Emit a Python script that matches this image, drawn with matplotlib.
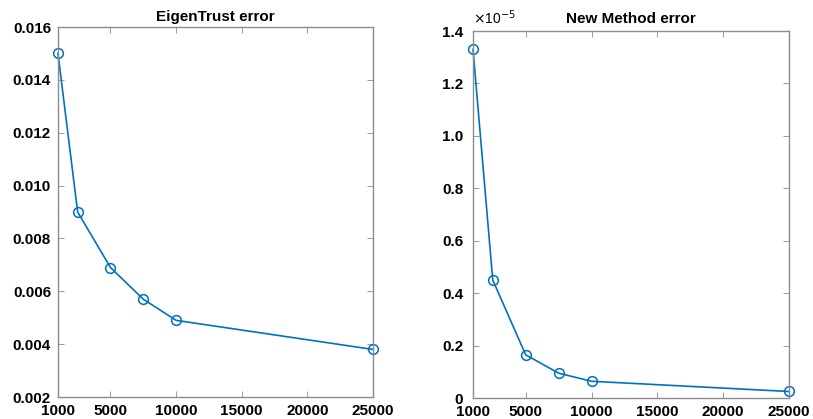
import matplotlib
matplotlib.use("Agg")
import matplotlib.pyplot as plt
from matplotlib.ticker import FuncFormatter

plt.rcParams['font.family'] = ['Liberation Sans', 'DejaVu Sans']

x_vals = [1000, 2500, 5000, 7500, 10000, 25000]
eigentrust_err = [0.0150, 0.0090, 0.0069, 0.0057, 0.0049, 0.0038]
newmethod_err = [1.33e-5, 0.45e-5, 0.165e-5, 0.095e-5, 0.064e-5, 0.025e-5]
x_ticks = [1000, 5000, 10000, 15000, 20000, 25000]
left_yticks = [0.002, 0.004, 0.006, 0.008, 0.010, 0.012, 0.014, 0.016]
right_yticks = [0, 0.2e-5, 0.4e-5, 0.6e-5, 0.8e-5, 1.0e-5, 1.2e-5, 1.4e-5]
titles = ["EigenTrust error", "New Method error"]

line_color = '#0072BD'
spine_color = '#8c8c8c'

fig = plt.figure(figsize=(8.13, 4.19), dpi=100)
ax1 = fig.add_axes([0.0713, 0.0525, 0.3875, 0.883])
ax2 = fig.add_axes([0.5818, 0.050, 0.3887, 0.876])

def style(ax, ypad):
    for s in ax.spines.values():
        s.set_color(spine_color)
        s.set_linewidth(1.0)
    ax.tick_params(direction='in', length=4, width=0.6, color=spine_color,
                   top=True, right=True, labelsize=11)
    ax.tick_params(axis='x', pad=5)
    ax.tick_params(axis='y', pad=ypad)
    ax.set_xlim(1000, 25000)
    ax.set_xticks(x_ticks)
    ax.xaxis.set_major_formatter(FuncFormatter(lambda v, p: f"{int(v)}"))

ax1.plot(x_vals, eigentrust_err, '-o', color=line_color, lw=1.2,
         markersize=7, markerfacecolor='none', markeredgewidth=1.1, clip_on=False)
ax1.set_ylim(0.002, 0.016)
ax1.set_yticks(left_yticks)
ax1.yaxis.set_major_formatter(FuncFormatter(lambda v, p: f"{v:.3f}"))
style(ax1, 5)
ax1.set_title(titles[0], fontsize=11, fontweight='bold', pad=4)

ax2.plot(x_vals, newmethod_err, '-o', color=line_color, lw=1.2,
         markersize=7, markerfacecolor='none', markeredgewidth=1.1, clip_on=False)
ax2.set_ylim(0, 1.4e-5)
ax2.set_yticks(right_yticks)
ax2.yaxis.set_major_formatter(FuncFormatter(lambda v, p: "0" if abs(v) < 1e-12 else f"{v/1e-5:.1f}"))
style(ax2, 7)
ax2.set_title(titles[1], fontsize=11, fontweight='bold', pad=6)
ax2.text(0.0, 1.01, r"$\times$10$^{-5}$", transform=ax2.transAxes,
         fontsize=10, ha='left', va='bottom')

for ax in (ax1, ax2):
    for lab in ax.get_xticklabels() + ax.get_yticklabels():
        lab.set_fontweight('bold')

fig.savefig("out.png", dpi=100)
